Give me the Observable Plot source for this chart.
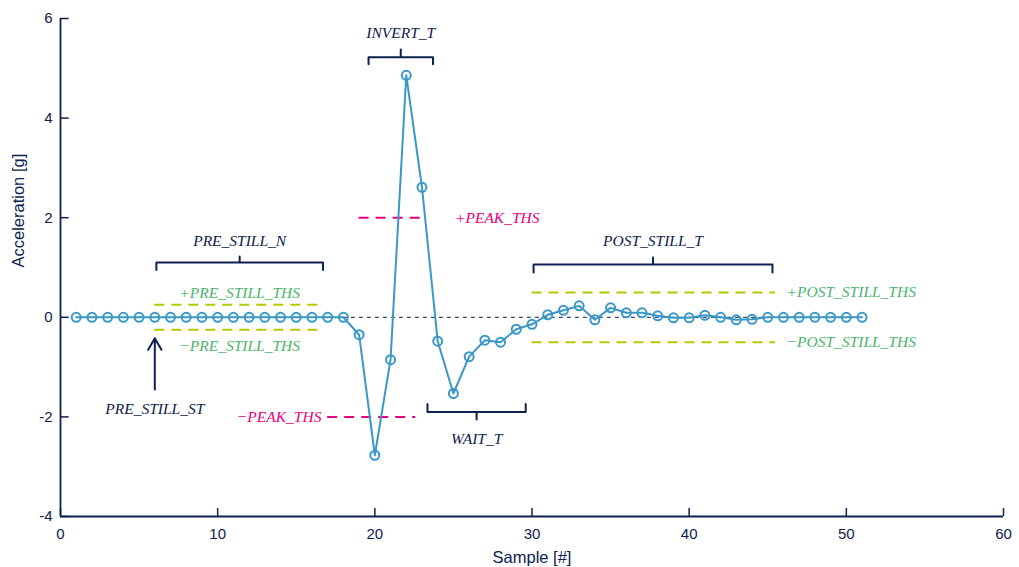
<!DOCTYPE html>
<html>
<head>
<meta charset="utf-8">
<script src="https://cdn.jsdelivr.net/npm/d3@7"></script>
<script src="https://cdn.jsdelivr.net/npm/@observablehq/plot@0.6"></script>
<style>
  html, body { margin: 0; padding: 0; background: #fff; }
  #chart svg { display: block; }
</style>
</head>
<body>
<div id="chart"></div>
<script>
// Samples 1..51
const samples = d3.range(1, 52);
const accel = [
  0, 0, 0, 0, 0, 0, 0, 0, 0, 0,
  0, 0, 0, 0, 0, 0, 0, 0, -0.35, -2.77,
  -0.85, 4.86, 2.61, -0.48, -1.53, -0.79, -0.46, -0.5, -0.24, -0.14,
  0.05, 0.14, 0.23, -0.05, 0.19, 0.09, 0.09, 0.03, -0.01, -0.01,
  0.04, 0, -0.05, -0.04, 0, 0, 0, 0, 0, 0,
  0
];
const xTicks = [0, 10, 20, 30, 40, 50, 60];
const yTicks = [-4, -2, 0, 2, 4, 6];
const xLabel = "Sample [#]";
const yLabel = "Acceleration [g]";

// threshold dashed lines
const stillThs = [
  {x1: 6, x2: 16.7, y: 0.25},
  {x1: 6, x2: 16.7, y: -0.25},
  {x1: 30, x2: 45.5, y: 0.5},
  {x1: 30, x2: 45.5, y: -0.5}
];
const peakThs = [
  {x1: 19, x2: 23, y: 2},
  {x1: 17, x2: 22.6, y: -2}
];
const greenLabelsMid = [
  {x: 11.4, y: 0.48, text: "+PRE_STILL_THS"},
  {x: 11.4, y: -0.58, text: "\u2212PRE_STILL_THS"}
];
const greenLabelsStart = [
  {x: 46.2, y: 0.5, text: "+POST_STILL_THS"},
  {x: 46.2, y: -0.5, text: "\u2212POST_STILL_THS"}
];
const pinkLabelsStart = [{x: 25.1, y: 2, text: "+PEAK_THS"}];
const pinkLabelsEnd = [{x: 16.6, y: -2, text: "\u2212PEAK_THS"}];
// brackets: x1, x2, bar y, tip y, middle tick y, label y
const brackets = [
  {name: "PRE_STILL_N", x1: 6.1, x2: 16.7, y: 1.1, tip: 0.95, mid: 1.22, ly: 1.53},
  {name: "INVERT_T", x1: 19.6, x2: 23.7, y: 5.22, tip: 5.08, mid: 5.38, ly: 5.7},
  {name: "WAIT_T", x1: 23.35, x2: 29.6, y: -1.9, tip: -1.74, mid: -2.05, ly: -2.45},
  {name: "POST_STILL_T", x1: 30.1, x2: 45.3, y: 1.06, tip: 0.9, mid: 1.2, ly: 1.53}
];
const arrow = {x: 6, y1: -1.45, y2: -0.42, text: "PRE_STILL_ST", ly: -1.85};

const data = samples.map((s, i) => ({s, a: accel[i]}));

const bracketPaths = [];
for (const b of brackets) {
  const cx = (b.x1 + b.x2) / 2;
  const pts = [[b.x1, b.tip], [b.x1, b.y], [cx, b.y], [cx, b.mid], [cx, b.y], [b.x2, b.y], [b.x2, b.tip]];
  for (const [x, y] of pts) bracketPaths.push({name: b.name, x, y});
}

const navy = "#0c2150";
const blue = "#3a98c8";
const lime = "#b8c800";
const green = "#4cb46c";
const pink = "#e5007d";
const labelFont = "Liberation Serif, serif";
const lab = {fontSize: 15.5, fontStyle: "italic", fontFamily: labelFont};
const sans = "Liberation Sans, Arial, sans-serif";

const chart = Plot.plot({
  width: 1019,
  height: 567,
  marginLeft: 60,
  marginRight: 16,
  marginTop: 18,
  marginBottom: 51,
  style: {fontFamily: sans, background: "#fff"},
  x: {domain: [0, 60]},
  y: {domain: [-4, 6]},
  marks: [
    Plot.axisX({ticks: xTicks, tickFormat: d => String(d), tickSize: 0, tickPadding: 12, fontSize: 15, color: navy, label: null}),
    Plot.axisY({ticks: yTicks, tickFormat: d => String(d), tickSize: 0, tickPadding: 8, fontSize: 15, color: navy, label: null}),
    Plot.text([xLabel], {frameAnchor: "bottom", dy: 46, text: d => d, fill: navy, fontSize: 16.5, fontFamily: sans}),
    Plot.text([yLabel], {frameAnchor: "left", dx: -42, rotate: -90, text: d => d, fill: navy, fontSize: 16.5, fontFamily: sans}),
    // inward ticks
    Plot.ruleY(yTicks, {x1: 0, x2: 0.55, stroke: navy, strokeWidth: 1.5}),
    Plot.ruleX(xTicks, {y1: -4, y2: -3.84, stroke: navy, strokeWidth: 1.5}),
    Plot.ruleX([0], {y1: -4, y2: 6, stroke: navy, strokeWidth: 1.8}),
    Plot.ruleY([-4], {x1: 0, x2: 60, stroke: navy, strokeWidth: 1.8}),
    // zero reference
    Plot.ruleY([0], {x1: 18, x2: 51, stroke: navy, strokeWidth: 1, strokeDasharray: "4,4"}),
    // thresholds
    Plot.ruleY(stillThs, {x1: "x1", x2: "x2", y: "y", stroke: lime, strokeWidth: 2, strokeDasharray: "10,7"}),
    Plot.ruleY(peakThs, {x1: "x1", x2: "x2", y: "y", stroke: pink, strokeWidth: 2, strokeDasharray: "10,7"}),
    Plot.text(greenLabelsMid, {x: "x", y: "y", text: "text", textAnchor: "middle", fill: green, ...lab}),
    Plot.text(greenLabelsStart, {x: "x", y: "y", text: "text", textAnchor: "start", fill: green, ...lab}),
    Plot.text(pinkLabelsStart, {x: "x", y: "y", text: "text", textAnchor: "start", fill: pink, ...lab}),
    Plot.text(pinkLabelsEnd, {x: "x", y: "y", text: "text", textAnchor: "end", fill: pink, ...lab}),
    // brackets
    Plot.line(bracketPaths, {x: "x", y: "y", z: "name", stroke: navy, strokeWidth: 2, curve: "linear"}),
    Plot.text(brackets, {x: d => (d.x1 + d.x2) / 2, y: "ly", text: "name", fill: navy, ...lab}),
    // arrow
    Plot.arrow([arrow], {x1: "x", x2: "x", y1: "y1", y2: "y2", stroke: navy, strokeWidth: 2, headLength: 10}),
    Plot.text([arrow], {x: "x", y: "ly", text: "text", fill: navy, ...lab}),
    // data
    Plot.line(data, {x: "s", y: "a", stroke: blue, strokeWidth: 2}),
    Plot.dot(data, {x: "s", y: "a", r: 4.5, stroke: blue, strokeWidth: 2, fill: "none"})
  ]
});
document.getElementById("chart").appendChild(chart);
</script>
</body>
</html>
